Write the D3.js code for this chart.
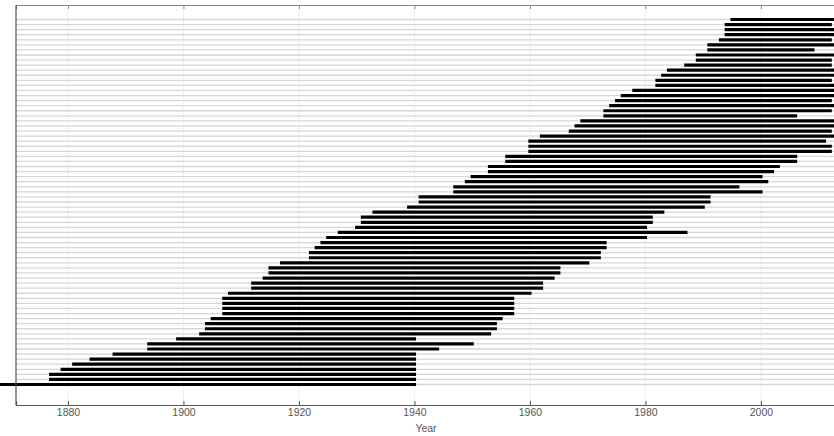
<!DOCTYPE html>
<html>
<head>
<meta charset="utf-8">
<script src="https://cdn.jsdelivr.net/npm/d3@7"></script>
<style>
  html, body { margin: 0; padding: 0; background: #fff; }
  svg { display: block; }
</style>
</head>
<body>
<svg id="chart" width="834" height="436"></svg>
<script>
// Row 1 is the top bar, row 73 the bottom bar
const startYears = [
  1995, 1994, 1994, 1994, 1993, 1991, 1991, 1989, 1989, 1987,
  1984, 1983, 1982, 1982, 1978, 1976, 1975, 1974, 1973, 1973,
  1969, 1968, 1967, 1962, 1960, 1960, 1960, 1956, 1956, 1953,
  1953, 1950, 1949, 1947, 1947, 1941, 1941, 1939, 1933, 1931,
  1931, 1930, 1927, 1925, 1924, 1923, 1922, 1922, 1917, 1915,
  1915, 1914, 1912, 1912, 1908, 1907, 1907, 1907, 1907, 1905,
  1904, 1904, 1903, 1899, 1894, 1894, 1888, 1884, 1881, 1879,
  1877, 1877, 1860
];
const endYears = [
  2013, 2012, 2013, 2013, 2012, 2013, 2009, 2013, 2012, 2012,
  2013, 2013, 2012, 2013, 2013, 2013, 2012, 2013, 2012, 2006,
  2013, 2013, 2012, 2013, 2011, 2012, 2012, 2006, 2006, 2003,
  2002, 2000, 2001, 1996, 2000, 1991, 1991, 1990, 1983, 1981,
  1981, 1980, 1987, 1980, 1973, 1973, 1972, 1972, 1970, 1965,
  1965, 1964, 1962, 1962, 1960, 1957, 1957, 1957, 1957, 1955,
  1954, 1954, 1953, 1940, 1950, 1944, 1940, 1940, 1940, 1940,
  1940, 1940, 1940
];
const xTickValues = [1880, 1900, 1920, 1940, 1960, 1980, 2000];
const xAxisTitle = "Year";

const rows = d3.range(1, startYears.length + 1);
const svg = d3.select("#chart");

const plot = { left: 16, right: 836, top: 5, bottom: 405 };
const x = d3.scaleLinear().domain([1871, 2013]).range([plot.left, plot.right]);
const y = d3.scaleLinear().domain([1, rows.length]).range([19.5, 384.5]);

// vertical gridlines
svg.append("g").selectAll("line").data(xTickValues).join("line")
  .attr("x1", d => x(d)).attr("x2", d => x(d))
  .attr("y1", plot.top).attr("y2", plot.bottom)
  .attr("stroke", "#e3e3e3").attr("stroke-width", 1)
  .attr("stroke-dasharray", "1.5,1");

// horizontal gridlines at every row
svg.append("g").selectAll("line").data(rows).join("line")
  .attr("x1", plot.left).attr("x2", 834)
  .attr("y1", d => y(d)).attr("y2", d => y(d))
  .attr("stroke", "#d6d6d6").attr("stroke-width", 1.3);

// bars
svg.append("g").selectAll("line").data(rows).join("line")
  .attr("x1", d => x(startYears[d - 1]))
  .attr("x2", d => x(endYears[d - 1]))
  .attr("y1", d => y(d)).attr("y2", d => y(d))
  .attr("stroke", "#000").attr("stroke-width", 3.2)
  .attr("stroke-linecap", "square");

// top border with inward ticks
const topAxis = d3.axisTop(x).tickValues(xTickValues).tickSize(-4).tickFormat("");
const gTop = svg.append("g").attr("transform", `translate(0,${plot.top})`).call(topAxis);
gTop.select(".domain").attr("stroke", "#8a8a8a").attr("stroke-width", 1.2);
gTop.selectAll(".tick line").attr("stroke", "#8a8a8a");

// bottom axis with inward ticks
const bottomAxis = d3.axisBottom(x).tickValues(xTickValues).tickSize(-4).tickPadding(4)
  .tickFormat(d3.format("d"));
const gBot = svg.append("g").attr("transform", `translate(0,${plot.bottom})`).call(bottomAxis);
gBot.select(".domain").attr("stroke", "#555").attr("stroke-width", 1.2);
gBot.selectAll(".tick line").attr("stroke", "#555");
gBot.selectAll(".tick text")
  .attr("font-family", "'Liberation Sans', Arial, sans-serif")
  .attr("font-size", 10.5).attr("fill", "#555");

// left axis line
svg.append("line")
  .attr("x1", plot.left).attr("x2", plot.left)
  .attr("y1", plot.top).attr("y2", plot.bottom)
  .attr("stroke", "#555").attr("stroke-width", 1.2);

// axis title
svg.append("text")
  .attr("x", (plot.left + plot.right) / 2).attr("y", 431.5)
  .attr("text-anchor", "middle")
  .attr("font-family", "'Liberation Sans', Arial, sans-serif")
  .attr("font-size", 10.5).attr("fill", "#555")
  .text(xAxisTitle);
</script>
</body>
</html>
